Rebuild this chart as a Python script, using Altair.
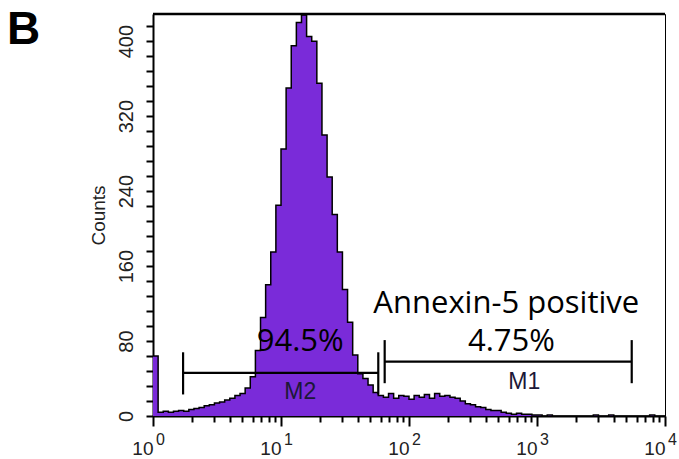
import altair as alt
import pandas as pd
import numpy as np

# ---- data ----
BIN = 0.04  # width of one channel in decades (log10 units)
counts = [64, 4, 5, 4, 5, 6, 5, 7, 8, 9,
          11, 12, 14, 15, 17, 19, 22, 24, 30, 42,
          70, 105, 140, 175, 225, 285, 350, 395, 420, 428,
          405, 400, 355, 300, 255, 215, 175, 135, 100, 65,
          45, 40, 33, 25, 22, 20, 24, 19, 22, 21,
          18, 22, 20, 23, 19, 24, 21, 22, 20, 19,
          16, 13, 12, 10, 9, 7, 6, 6, 4, 3,
          2, 3, 2, 2, 1, 1, 0, 1, 0, 0,
          0, 0, 0, 0, 0, 0, 1, 0, 0, 1,
          0, 0, 0, 0, 0, 0, 0, 1, 0, 0]
edges = [round(i * BIN, 2) for i in range(len(counts) + 1)]

marker_names = ["M2", "M1"]
marker_from = [0.235, 1.81]     # log10 units
marker_to = [1.76, 3.74]
marker_level = [46, 58]         # counts
marker_low = [23, 35]
marker_high = [68, 81]
marker_label_x = [1.15, 2.90]
marker_label_y = [26, 36]

pct_labels = ["94.5%", "4.75%"]
pct_x = [1.15, 2.80]
pct_y = [69, 69]
gate_title = "Annexin-5 positive"
gate_title_x, gate_title_y = 2.76, 110

decades = [0, 1, 2, 3, 4]
exponents = ["0", "1", "2", "3", "4"]

y_ticks = list(range(0, 417, 16))
x_ticks = sorted(set([round(d + np.log10(k), 5) for d in range(4) for k in range(1, 10)] + [4.0]))

PURPLE = "#7a2bd9"
W, H = 512, 402

hist = pd.DataFrame({"x": edges, "count": counts + [0]})

is_major = "abs(datum.value - round(datum.value)) < 0.000001"
xscale = alt.Scale(domain=[0, 4], nice=False, zero=False)
yscale = alt.Scale(domain=[0, 429], nice=False)

xaxis = alt.Axis(
    values=x_ticks, title=None, grid=False,
    labelExpr="abs(datum.value - round(datum.value)) < 0.000001 ? '10' : ''",
    labelAlign="right",
    tickSize={"condition": {"test": is_major, "value": 10}, "value": 6},
)
yaxis = alt.Axis(
    values=y_ticks, title="Counts", grid=False,
    labelExpr="datum.value % 80 === 0 ? datum.value : ''",
)


def X(f):
    return alt.X(f, scale=xscale, axis=xaxis)


def Y(f):
    return alt.Y(f, scale=yscale, axis=yaxis)


area = alt.Chart(hist).mark_area(
    interpolate="step-after", color=PURPLE, opacity=1,
    line={"color": "black", "strokeWidth": 1.5},
).encode(x=X("x:Q"), y=Y("count:Q"))

mk = pd.DataFrame({"name": marker_names, "x1": marker_from, "x2": marker_to,
                   "y": marker_level, "lo": marker_low, "hi": marker_high,
                   "lx": marker_label_x, "ly": marker_label_y})
hline = alt.Chart(mk).mark_rule(color="black", strokeWidth=2.2).encode(
    x=X("x1:Q"), x2="x2:Q", y=Y("y:Q"))
vl = alt.Chart(mk).mark_rule(color="black", strokeWidth=2.2).encode(
    x=X("x1:Q"), y=Y("lo:Q"), y2="hi:Q")
vr = alt.Chart(mk).mark_rule(color="black", strokeWidth=2.2).encode(
    x=X("x2:Q"), y=Y("lo:Q"), y2="hi:Q")
mtext = alt.Chart(mk).mark_text(font="Liberation Sans", fontSize=23, color="#1c1838",
                                baseline="middle", align="center").encode(
    x=X("lx:Q"), y=Y("ly:Q"), text="name:N")

pt = pd.DataFrame({"t": pct_labels, "x": pct_x, "y": pct_y})
ptext = alt.Chart(pt).mark_text(font="Open Sans", fontSize=31, color="black",
                                baseline="alphabetic", align="center").encode(
    x=X("x:Q"), y=Y("y:Q"), text="t:N")
gt = pd.DataFrame({"t": [gate_title], "x": [gate_title_x], "y": [gate_title_y]})
gtext = alt.Chart(gt).mark_text(font="Open Sans", fontSize=31, color="black",
                                baseline="alphabetic", align="center").encode(
    x=X("x:Q"), y=Y("y:Q"), text="t:N")

ex = pd.DataFrame({"d": decades, "e": exponents})
etext = alt.Chart(ex).mark_text(font="Liberation Sans", fontSize=16, color="#222",
                                align="left", baseline="alphabetic", dx=3).encode(
    x=X("d:Q"), y=alt.value(H + 29), text="e:N")

panel = pd.DataFrame({"t": ["B"]})
ptag = alt.Chart(panel).mark_text(font="Liberation Sans", fontSize=46, fontWeight="bold",
                                  color="black", align="left", baseline="alphabetic").encode(
    x=alt.value(-146), y=alt.value(30), text="t:N")

top = alt.Chart(panel).mark_rule(color="black", strokeWidth=2.5).encode(
    x=alt.value(0), x2=alt.value(W), y=alt.value(0))

chart = alt.layer(area, hline, vl, vr, mtext, ptext, gtext, etext, ptag, top).properties(
    width=W, height=H, background="white",
    autosize=alt.AutoSizeParams(type="none"),
    padding={"left": 153, "top": 14, "right": 14, "bottom": 43},
).configure_view(
    stroke="black", strokeWidth=1
).configure_axis(
    labelFont="Liberation Sans", labelColor="#222", labelOverlap=False,
    tickWidth=2, tickColor="black", domainColor="black", domainWidth=2,
    titleFont="Liberation Sans", titleFontWeight="normal", titleColor="#222",
).configure_axisX(
    labelFontSize=19, labelFlush=False, labelPadding=13,
).configure_axisY(
    labelFontSize=20, labelAngle=270, labelPadding=10, tickSize=7,
    titleFontSize=19, titlePadding=8,
)

chart.save("out.html", embed_options={"renderer": "svg", "actions": False})
